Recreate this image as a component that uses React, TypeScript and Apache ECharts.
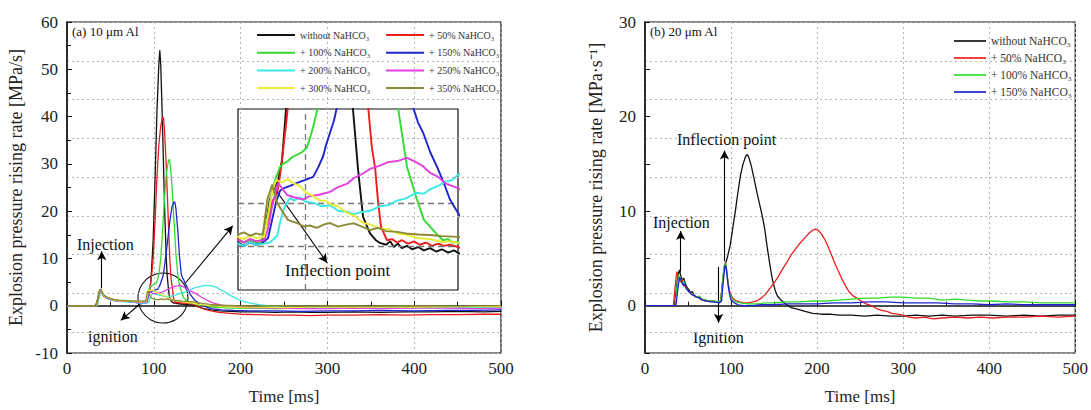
import React, { useEffect, useRef } from "react";
import * as echarts from "echarts";

const FONT = '"Liberation Serif", "Times New Roman", serif';

// ---------- names ----------
const names10 = [
  "without NaHCO₃",
  "+ 50% NaHCO₃",
  "+ 100% NaHCO₃",
  "+ 150% NaHCO₃",
  "+ 200% NaHCO₃",
  "+ 250% NaHCO₃",
  "+ 300% NaHCO₃",
  "+ 350% NaHCO₃",
];
const names20 = ["without NaHCO₃", "+ 50% NaHCO₃", "+ 100% NaHCO₃", "+ 150% NaHCO₃"];
const colors = ["#111111", "#ee1c1c", "#2fdc2f", "#1f24d0", "#3ae8e8", "#e23ee2", "#ecec33", "#8c8a35"];

const xTicks = [0, 100, 200, 300, 400, 500];

// ---------- (a) 10 µm Al : [time ms, rate MPa/s] ----------
const black10 = [
  [0, 0], [33, 0], [35, 1.2], [37, 3.0], [39, 3.4], [41, 2.6], [43, 2.1], [46, 1.8], [50, 1.5], [55, 1.2], [60, 1.1], [66, 1.0], [72, 0.9], [78, 0.8],
  [84, 0.6], [85.6, 0.45], [87.3, 0.6], [88.9, 0.5], [90.5, 0.55], [91.6, 1.4], [92.7, 2.5], [93.8, 3.0], [94.9, 3.3], [96, 4.2], [97.1, 6.5], [99.3, 14], [101.5, 27], [103.6, 41], [105.8, 51], [106.9, 54], [108, 51], [110.2, 37], [112.4, 21], [114.5, 9.5], [115.3, 6.6], [116.7, 3.9], [118.1, 1.73], [120, 1.0], [121.6, 0.7], [122.7, 0.58], [124.4, 0.5], [125.5, 0.65], [126.5, 0.4], [127.6, 0.55], [128.7, 0.35], [130.1, 0.45], [131.5, 0.3], [133.1, 0.4], [134.7, 0.25], [136.4, 0.35], [138, 0.2], [139.6, 0.3], [141.3, 0.15], [142.9, 0.25], [144.5, 0.1],
  [147, 0], [152, -0.3], [158, -0.6], [166, -0.9], [175, -1.1], [188, -1.2], [200, -1.3], [220, -1.3], [240, -1.4], [260, -1.3], [280, -1.4], [300, -1.4], [330, -1.3], [360, -1.4], [390, -1.3], [420, -1.3], [450, -1.2], [480, -1.3], [500, -1.2],
];
const red10 = [
  [0, 0], [34, 0], [36, 1.6], [38, 3.3], [40, 2.9], [42, 2.2], [45, 1.8], [50, 1.4], [55, 1.2], [60, 1.0], [66, 1.0], [72, 0.9], [78, 0.8],
  [84, 0.75], [85.6, 0.6], [87.3, 0.75], [88.9, 0.65], [90.5, 0.7], [92.2, 1.6], [93.3, 2.4], [94.7, 2.8], [95.5, 3.6], [96.3, 4.7], [97.1, 5.8], [97.6, 6.6], [99.3, 10], [101.5, 18], [103.6, 27], [105.8, 34], [108, 38], [110.2, 40], [111.3, 39.5], [112.4, 37], [114.5, 29], [116.7, 18], [118.4, 10], [119.5, 6.6], [120.5, 4.8], [121.4, 3.9], [122.2, 2.4], [123, 1.3], [124.6, 0.7], [126, 0.75], [127.4, 0.6], [128.7, 0.7], [130.4, 0.55], [132, 0.65], [133.6, 0.5], [135.3, 0.6], [136.9, 0.45], [138.6, 0.55], [140.2, 0.45], [141.8, 0.5], [144, 0.4],
  [147, 0.2], [152, -0.3], [158, -0.7], [166, -1.1], [175, -1.4], [188, -1.6], [200, -1.8], [220, -1.9], [240, -2.0], [260, -2.0], [280, -2.1], [300, -2.0], [330, -2.0], [360, -1.9], [390, -2.0], [420, -1.9], [450, -1.9], [480, -1.8], [500, -1.8],
];
const green10 = [
  [0, 0], [34, 0], [36, 1.5], [38, 3.1], [40, 2.8], [42, 2.2], [45, 1.7], [50, 1.4], [55, 1.1], [60, 1.0], [66, 0.9], [72, 0.9], [78, 0.8],
  [84, 0.7], [85.6, 0.6], [87.3, 0.7], [88.9, 0.6], [90.5, 0.65], [92.2, 1.8], [93.3, 2.9], [94.4, 3.5], [95.5, 3.94], [96.5, 4.1], [97.6, 4.2], [99, 4.4], [100.4, 4.5], [101.5, 4.6], [102.8, 4.8], [103.6, 5.2], [104.5, 5.7], [105.8, 6.6], [108, 10], [110.2, 16], [112.4, 23], [114.5, 28], [116.7, 30.5], [117.8, 31], [118.9, 30], [121.1, 25], [123.3, 18], [125.5, 11], [127.6, 6.6], [130.1, 3.94], [132.8, 2.5], [134.7, 1.6], [136.4, 1.3], [138, 1.0], [139.9, 0.7], [141.3, 0.75], [142.4, 0.6], [144, 0.62],
  [147, 0.4], [152, 0.1], [158, -0.1], [166, -0.3], [178, -0.4], [192, -0.5], [210, -0.5], [240, -0.6], [270, -0.5], [300, -0.5], [330, -0.4], [360, -0.5], [400, -0.4], [440, -0.4], [470, -0.3], [500, -0.4],
];
const blue10 = [
  [0, 0], [34, 0], [36, 1.4], [38, 3.0], [40, 2.7], [42, 2.1], [45, 1.7], [50, 1.3], [55, 1.1], [60, 0.9], [66, 0.9], [72, 0.8], [78, 0.7],
  [84, 0.55], [85.6, 0.45], [87.3, 0.6], [88.9, 0.5], [90.5, 0.55], [92.2, 0.8], [93.3, 1.6], [94.4, 2.4], [95.5, 2.9], [96.5, 3.0], [98.2, 3.1], [100.1, 3.23], [102, 3.35], [104.5, 3.5], [105.8, 3.9], [107.2, 4.4], [108, 4.9], [109.1, 5.45], [110.2, 6.0], [111, 6.6], [112.4, 8.5], [114.5, 11.5], [116.7, 15], [118.9, 18.5], [121.1, 21], [123.3, 22], [124.4, 21.8], [125.5, 20.5], [127.6, 16], [129.8, 10], [131.7, 6.6], [133.1, 5.9], [134.5, 5.45], [136.4, 4.6], [138.3, 3.94], [140.2, 3.2], [141.8, 2.5], [144, 1.9],
  [147, 1.2], [152, 0.4], [158, -0.1], [166, -0.6], [178, -0.9], [192, -1.0], [210, -1.1], [240, -1.1], [270, -1.2], [300, -1.1], [330, -1.1], [360, -1.0], [400, -1.1], [440, -1.0], [470, -1.0], [500, -0.9],
];
const cyan10 = [
  [0, 0], [35, 0], [37, 1.5], [39, 3.0], [41, 2.6], [43, 2.0], [46, 1.6], [50, 1.3], [55, 1.1], [60, 0.9], [66, 0.8], [72, 0.8], [78, 0.7],
  [84, 0.55], [85.6, 0.45], [87.3, 0.6], [88.9, 0.5], [91.1, 0.55], [92.7, 0.6], [94.7, 0.9], [95.5, 1.5], [96.3, 2.0], [97.1, 2.3], [98.2, 2.57], [99.3, 2.45], [100.9, 2.6], [102.5, 2.4], [104.7, 2.35], [106.9, 2.2], [109.1, 2.25], [111.3, 2.0], [113.8, 1.95], [115.6, 1.85], [117.8, 1.95], [120, 2.0], [122.7, 2.2], [124.9, 2.25], [127.4, 2.45], [129.8, 2.55], [132.8, 2.8], [134.7, 2.75], [136.4, 2.95], [138.6, 3.1], [140.7, 3.3], [142.4, 3.35], [144, 3.6],
  [149, 3.9], [154, 4.1], [159, 4.3], [164, 4.25], [169, 4.1], [174, 3.7], [180, 3.1], [186, 2.4], [193, 1.7], [200, 1.1], [210, 0.6], [222, 0.2], [235, -0.1], [250, -0.3], [270, -0.4], [300, -0.4], [330, -0.5], [360, -0.4], [400, -0.4], [440, -0.3], [470, -0.4], [500, -0.3],
];
const magenta10 = [
  [0, 0], [34, 0], [36, 1.5], [38, 3.2], [40, 2.8], [42, 2.2], [45, 1.7], [50, 1.4], [55, 1.1], [60, 1.0], [66, 0.9], [72, 0.9], [78, 0.8],
  [84, 0.7], [85.6, 0.6], [87.3, 0.75], [88.9, 0.65], [91.1, 0.7], [92.2, 1.2], [93.3, 2.2], [94.4, 2.9], [94.9, 3.23], [96, 3.0], [97.4, 2.7], [99.3, 2.6], [101.7, 2.5], [103.6, 2.65], [105.8, 2.7], [109.1, 2.84], [111.3, 3.05], [113.8, 3.2], [115.6, 3.45], [118.1, 3.65], [120, 3.85], [122.7, 4.0], [124.9, 4.15], [127.4, 4.2], [130.1, 4.34], [132, 4.2], [134.2, 4.0], [136.4, 3.68], [138.6, 3.5], [140.7, 3.2], [144, 3.0],
  [149, 2.5], [155, 1.8], [161, 1.2], [168, 0.6], [177, 0.2], [190, -0.2], [210, -0.4], [240, -0.5], [270, -0.6], [300, -0.6], [330, -0.5], [360, -0.6], [400, -0.5], [440, -0.5], [470, -0.6], [500, -0.5],
];
const yellow10 = [
  [0, 0], [34, 0], [36, 1.6], [38, 3.4], [40, 3.0], [42, 2.3], [45, 1.8], [50, 1.5], [55, 1.2], [60, 1.1], [66, 1.0], [72, 0.9], [78, 0.9],
  [84, 0.85], [85.6, 0.75], [87.3, 0.9], [88.9, 0.8], [91.1, 0.85], [92.2, 1.8], [93.3, 2.8], [94.4, 3.37], [96, 3.25], [97.6, 3.4], [99.3, 3.2], [100.9, 3.1], [102.5, 2.8], [104.5, 2.65], [106.4, 2.45], [108, 2.45], [109.1, 2.3], [111.3, 2.2], [113.8, 1.9], [115.6, 1.8], [118.1, 1.46], [120, 1.4], [122.7, 1.2], [124.9, 1.2], [127.4, 1.0], [129.8, 0.95], [133.1, 0.8], [136.4, 0.75], [139.6, 0.62], [141.8, 0.65], [144, 0.58],
  [149, 0.4], [156, 0.2], [165, 0.0], [178, -0.2], [195, -0.3], [220, -0.3], [250, -0.4], [280, -0.3], [310, -0.3], [350, -0.3], [400, -0.3], [450, -0.2], [500, -0.2],
];
const olive10 = [
  [0, 0], [34, 0], [36, 1.7], [38, 3.5], [40, 3.1], [42, 2.4], [45, 1.9], [50, 1.5], [55, 1.3], [60, 1.2], [66, 1.1], [72, 1.0], [78, 1.0],
  [84, 0.95], [85.6, 1.05], [87.3, 0.9], [88.9, 1.0], [90, 0.95], [90.8, 1.0], [92, 2.5], [93.3, 3.15], [94.7, 2.35], [96, 2.0], [97.6, 1.6], [100.1, 1.46], [102, 1.3], [103.6, 1.35], [105.5, 1.25], [107.5, 1.4], [109.1, 1.46], [111.3, 1.3], [113.8, 1.4], [115.6, 1.45], [117.8, 1.3], [120, 1.15], [122.2, 1.25], [124.4, 1.1], [127.4, 1.07], [129.8, 1.0], [133.1, 0.95], [136.4, 0.93], [139.6, 0.88], [144, 0.85],
  [149, 0.7], [156, 0.5], [165, 0.3], [178, 0.1], [195, 0.0], [220, -0.1], [250, 0.0], [280, -0.1], [310, 0.0], [350, -0.1], [400, 0.0], [450, -0.1], [500, 0.0],
];
const data10 = [black10, red10, green10, blue10, cyan10, magenta10, yellow10, olive10];

// ---------- (b) 20 µm Al ----------
const black20 = [
  [0, 0], [34, 0], [36, 1.4], [38, 3.0], [40, 3.8], [41.5, 3.2], [43, 2.7], [45, 2.9], [47, 2.3], [49, 1.9], [51, 1.7], [53, 1.4], [55, 1.5], [57, 1.1], [60, 0.9], [63, 1.0], [66, 0.7], [70, 0.6], [74, 0.5], [78, 0.5], [82, 0.4], [86, 0.4], [88, 0.5],
  [90, 2.4], [92, 4.0], [94, 4.6], [96, 5.2], [99, 6.4], [102, 8.2], [105, 10.0], [108, 12.0], [111, 13.8], [114, 15.0], [117, 15.8], [119, 16.0], [121, 15.6], [124, 14.6], [127, 13.3], [130, 12.0], [133, 10.8], [136, 9.6], [139, 8.2], [142, 6.2], [145, 4.4], [148, 2.8], [151, 1.7], [154, 1.0], [158, 0.6], [163, 0.2], [170, -0.2], [178, -0.4], [186, -0.6], [195, -0.8], [205, -0.9], [215, -0.9], [225, -1.0], [240, -1.0], [255, -1.1], [270, -1.0], [285, -1.1], [300, -1.1], [315, -1.0], [330, -1.1], [345, -1.0], [360, -1.1], [380, -1.0], [400, -1.0], [420, -1.1], [440, -1.0], [460, -1.1], [480, -1.0], [500, -1.0],
];
const red20 = [
  [0, 0], [33, 0], [35, 2.0], [37, 3.6], [39, 3.1], [41, 2.5], [43, 2.8], [45, 2.1], [47, 2.0], [50, 1.6], [53, 1.3], [56, 1.1], [59, 0.9], [62, 0.9], [66, 0.6], [70, 0.5], [75, 0.5], [80, 0.4], [85, 0.4], [88, 0.4],
  [90, 2.2], [92, 4.0], [93.5, 4.6], [95, 3.6], [97, 2.2], [99, 1.3], [102, 0.8], [106, 0.5], [110, 0.4], [115, 0.3], [120, 0.3], [125, 0.4], [130, 0.5], [135, 0.8], [140, 1.2], [145, 1.8], [150, 2.4], [155, 3.1], [160, 3.9], [165, 4.6], [170, 5.4], [175, 6.0], [180, 6.6], [185, 7.1], [190, 7.6], [195, 8.0], [198, 8.1], [201, 8.0], [205, 7.6], [209, 7.0], [213, 6.2], [217, 5.3], [221, 4.4], [225, 3.6], [229, 2.8], [233, 2.1], [237, 1.5], [241, 1.1], [246, 0.8], [251, 0.5], [257, 0.2], [263, 0.0], [269, -0.3], [275, -0.5], [281, -0.6], [287, -0.8], [293, -0.9], [300, -1.0], [307, -1.2], [315, -1.3], [325, -1.2], [335, -1.4], [345, -1.3], [360, -1.2], [375, -1.3], [390, -1.2], [405, -1.3], [420, -1.2], [440, -1.2], [460, -1.1], [480, -1.2], [500, -1.1],
];
const green20 = [
  [0, 0], [35, 0], [37, 1.8], [39, 3.2], [41, 2.9], [43, 2.4], [45, 2.6], [47, 2.0], [50, 1.6], [53, 1.3], [56, 1.2], [59, 0.9], [62, 1.0], [66, 0.7], [70, 0.6], [75, 0.5], [80, 0.5], [85, 0.4], [88, 0.5],
  [90, 2.4], [92, 4.2], [93.5, 4.5], [95, 3.4], [97, 2.0], [99, 1.1], [102, 0.6], [106, 0.4], [110, 0.3], [120, 0.2], [130, 0.2], [140, 0.3], [150, 0.3], [165, 0.4], [180, 0.4], [195, 0.5], [210, 0.5], [225, 0.6], [240, 0.7], [255, 0.8], [270, 0.8], [285, 0.9], [300, 0.9], [315, 0.8], [330, 0.8], [345, 0.6], [360, 0.7], [375, 0.6], [390, 0.5], [405, 0.5], [420, 0.4], [440, 0.4], [460, 0.3], [480, 0.3], [500, 0.3],
];
const blue20 = [
  [0, 0], [36, 0], [38, 1.6], [40, 3.0], [42, 2.7], [44, 2.2], [46, 2.3], [48, 1.8], [51, 1.5], [54, 1.2], [57, 1.1], [60, 0.9], [63, 0.8], [67, 0.6], [71, 0.5], [76, 0.4], [81, 0.4], [86, 0.3], [89, 0.5],
  [91, 2.6], [93, 4.3], [94.5, 4.0], [96, 2.6], [98, 1.3], [100, 0.6], [104, 0.3], [108, 0.1], [115, 0.0], [125, 0.0], [135, 0.1], [150, 0.1], [165, 0.2], [180, 0.2], [200, 0.2], [220, 0.3], [240, 0.3], [260, 0.4], [280, 0.4], [300, 0.3], [320, 0.3], [340, 0.3], [360, 0.2], [380, 0.2], [400, 0.1], [420, 0.2], [440, 0.1], [460, 0.1], [480, 0.1], [500, 0.1],
];
const data20 = [black20, red20, green20, blue20];

// ---------- annotation anchors (data coordinates) ----------
const arrowsA = [
  [[40, 3.7], [40, 11.5]],
  [[88, 1.0], [62, -3.1]],
  [[136, 4.7], [191, 16.9]],
];
const insetRangeX = [84, 144];
const insetRangeY = [-1.5, 6.5];
const arrowsInset = [[[93.3, 3.15], [108.3, -0.3]]];
const insetGuidesY = [2.35, 0.45];
const insetGuidesX = [102.3];
const arrowsB = [
  [[41.5, 3.6], [41.5, 7.9]],
  [[92.4, 4.7], [92.4, 16.4]],
  [[85.5, 4.1], [85.5, -1.8]],
];

const arrowLine = (pairs: number[][][]) => ({
  silent: true,
  symbol: ["none", "arrow"],
  symbolSize: [7, 9],
  label: { show: false },
  emphasis: { disabled: true },
  lineStyle: { color: "#000", width: 1.1, type: "solid" },
  data: pairs.map(([a, b]) => [{ coord: a }, { coord: b }]),
});

const axisText = { fontFamily: FONT, fontSize: 17, color: "#222" };
const dotted = { type: [2, 3] as any, color: "#b5b5b5", width: 1 };
const legendIcon = "path://M0,0 L38,0 L38,2 L0,2 Z";

function buildOption() {
  const xMain = (gridIndex: number) => ({
    gridIndex,
    type: "value",
    min: xTicks[0],
    max: xTicks[xTicks.length - 1],
    interval: 100,
    name: "Time [ms]",
    nameLocation: "middle",
    nameGap: 35,
    nameTextStyle: { ...axisText },
    axisLine: { lineStyle: { color: "#111", width: 1.5 } },
    axisTick: { inside: true, length: 5, lineStyle: { color: "#111" } },
    minorTick: { show: true, splitNumber: 2, length: 4, lineStyle: { color: "#111" } },
    axisLabel: { ...axisText, margin: 7 },
    splitLine: { show: true, lineStyle: dotted },
  });
  const gridLines = (gridIndex: number) => ({
    gridIndex,
    type: "value",
    inverse: true,
    min: 0,
    max: 8.54,
    interval: 1,
    position: "right",
    axisLine: { show: false },
    axisTick: { show: false },
    axisLabel: { show: false },
    splitLine: { show: true, lineStyle: dotted },
  });

  const series: any[] = [];
  data10.forEach((d, i) => {
    series.push({
      type: "line",
      name: names10[i],
      xAxisIndex: 0,
      yAxisIndex: 0,
      data: d,
      symbol: "none",
      color: colors[i],
      lineStyle: { width: 1.3, color: colors[i] },
      z: 3 + i,
      markLine: i === 0 ? arrowLine(arrowsA) : undefined,
    });
  });
  data20.forEach((d, i) => {
    series.push({
      type: "line",
      name: names20[i],
      xAxisIndex: 1,
      yAxisIndex: 2,
      data: d,
      symbol: "none",
      color: colors[i],
      lineStyle: { width: 1.3, color: colors[i] },
      z: 3 + i,
      markLine: i === 0 ? arrowLine(arrowsB) : undefined,
    });
  });
  data10.forEach((d, i) => {
    let ml: any = undefined;
    if (i === 0) {
      ml = {
        silent: true,
        symbol: ["none", "none"],
        label: { show: false },
        emphasis: { disabled: true },
        lineStyle: { color: "#777", width: 1.3, type: [6, 4] },
        data: [...insetGuidesY.map((v) => ({ yAxis: v })), ...insetGuidesX.map((v) => ({ xAxis: v }))],
      };
    } else if (i === 1) {
      ml = arrowLine(arrowsInset);
    }
    series.push({
      type: "line",
      name: names10[i],
      xAxisIndex: 2,
      yAxisIndex: 4,
      data: d,
      symbol: "none",
      clip: true,
      color: colors[i],
      lineStyle: { width: 1.9, color: colors[i] },
      z: 3 + i,
      markLine: ml,
    });
  });

  const legendBase = {
    orient: "vertical",
    itemWidth: 38,
    itemHeight: 14,
    icon: legendIcon,
    selectedMode: false,
    textStyle: { fontFamily: FONT, fontSize: 10, color: "#333" },
  };

  return {
    animation: false,
    backgroundColor: "#ffffff",
    textStyle: { fontFamily: FONT },
    grid: [
      { left: 67, right: 590, top: 22, bottom: 55, show: true, borderColor: "#111", borderWidth: 1.2, backgroundColor: "transparent" },
      { left: 645, right: 13, top: 22, bottom: 55, show: true, borderColor: "#111", borderWidth: 1.2, backgroundColor: "transparent" },
      { left: 238, top: 109, width: 220, height: 181, show: true, borderColor: "#111", borderWidth: 1.2, backgroundColor: "transparent" },
    ],
    xAxis: [
      xMain(0),
      xMain(1),
      { gridIndex: 2, type: "value", min: insetRangeX[0], max: insetRangeX[1], show: false },
    ],
    yAxis: [
      {
        gridIndex: 0,
        type: "value",
        min: -10,
        max: 60,
        interval: 10,
        name: "Explosion pressure rising rate [MPa/s]",
        nameLocation: "middle",
        nameGap: 42,
        nameTextStyle: { ...axisText, fontSize: 18 },
        axisLine: { show: true, lineStyle: { color: "#111", width: 1.5 } },
        axisTick: { show: true, inside: true, length: 5, lineStyle: { color: "#111" } },
        minorTick: { show: true, splitNumber: 2, length: 4, lineStyle: { color: "#111" } },
        axisLabel: { ...axisText, margin: 9 },
        splitLine: { show: false },
      },
      gridLines(0),
      {
        gridIndex: 1,
        type: "value",
        min: -5,
        max: 30,
        interval: 5,
        name: "Explosion pressure rising rate [MPa·s⁻¹]",
        nameLocation: "middle",
        nameGap: 40,
        nameTextStyle: { ...axisText, fontSize: 18 },
        axisLine: { show: true, lineStyle: { color: "#111", width: 1.5 } },
        axisTick: { show: true, inside: true, length: 5, lineStyle: { color: "#111" } },
        axisLabel: { ...axisText, margin: 9, formatter: (v: number) => (v % 10 === 0 ? String(v) : "") },
        splitLine: { show: false },
      },
      gridLines(1),
      { gridIndex: 2, type: "value", min: insetRangeY[0], max: insetRangeY[1], show: false },
    ],
    legend: [
      { ...legendBase, left: 252, top: 25, itemGap: 7.7, data: [names10[0], names10[2], names10[4], names10[6]] },
      { ...legendBase, left: 381, top: 25, itemGap: 7.7, data: [names10[1], names10[3], names10[5], names10[7]] },
      {
        ...legendBase,
        left: 949,
        top: 30,
        itemWidth: 32,
        itemGap: 5,
        textStyle: { fontFamily: FONT, fontSize: 11.5, color: "#333" },
        data: names20,
      },
    ],
    graphic: [
      { type: "text", left: 72, top: 25, style: { text: "(a) 10 μm Al", fontFamily: FONT, fontSize: 13, fill: "#111" } },
      { type: "text", left: 77, top: 236, style: { text: "Injection", fontFamily: FONT, fontSize: 16, fill: "#111" } },
      { type: "text", left: 88, top: 328, style: { text: "ignition", fontFamily: FONT, fontSize: 16, fill: "#111" } },
      { type: "text", left: 285, top: 262, style: { text: "Inflection point", fontFamily: FONT, fontSize: 17, fill: "#111" } },
      { type: "circle", shape: { cx: 163, cy: 298, r: 25 }, style: { fill: "none", stroke: "#111", lineWidth: 1.1 } },
      { type: "text", left: 650, top: 25, style: { text: "(b) 20 μm Al", fontFamily: FONT, fontSize: 13, fill: "#111" } },
      { type: "text", left: 677, top: 131, style: { text: "Inflection point", fontFamily: FONT, fontSize: 16, fill: "#111" } },
      { type: "text", left: 653, top: 214, style: { text: "Injection", fontFamily: FONT, fontSize: 16, fill: "#111" } },
      { type: "text", left: 693, top: 329, style: { text: "Ignition", fontFamily: FONT, fontSize: 16, fill: "#111" } },
    ],
    series,
  };
}

export default function App() {
  const ref = useRef<HTMLDivElement>(null);
  useEffect(() => {
    if (!ref.current) return;
    const chart = echarts.init(ref.current, null, { renderer: "svg" });
    chart.setOption(buildOption() as any);
    return () => chart.dispose();
  }, []);
  return (
    <div
      ref={ref}
      style={{ position: "fixed", left: 0, top: 0, width: 1091, height: 410, background: "#fff" }}
    />
  );
}
